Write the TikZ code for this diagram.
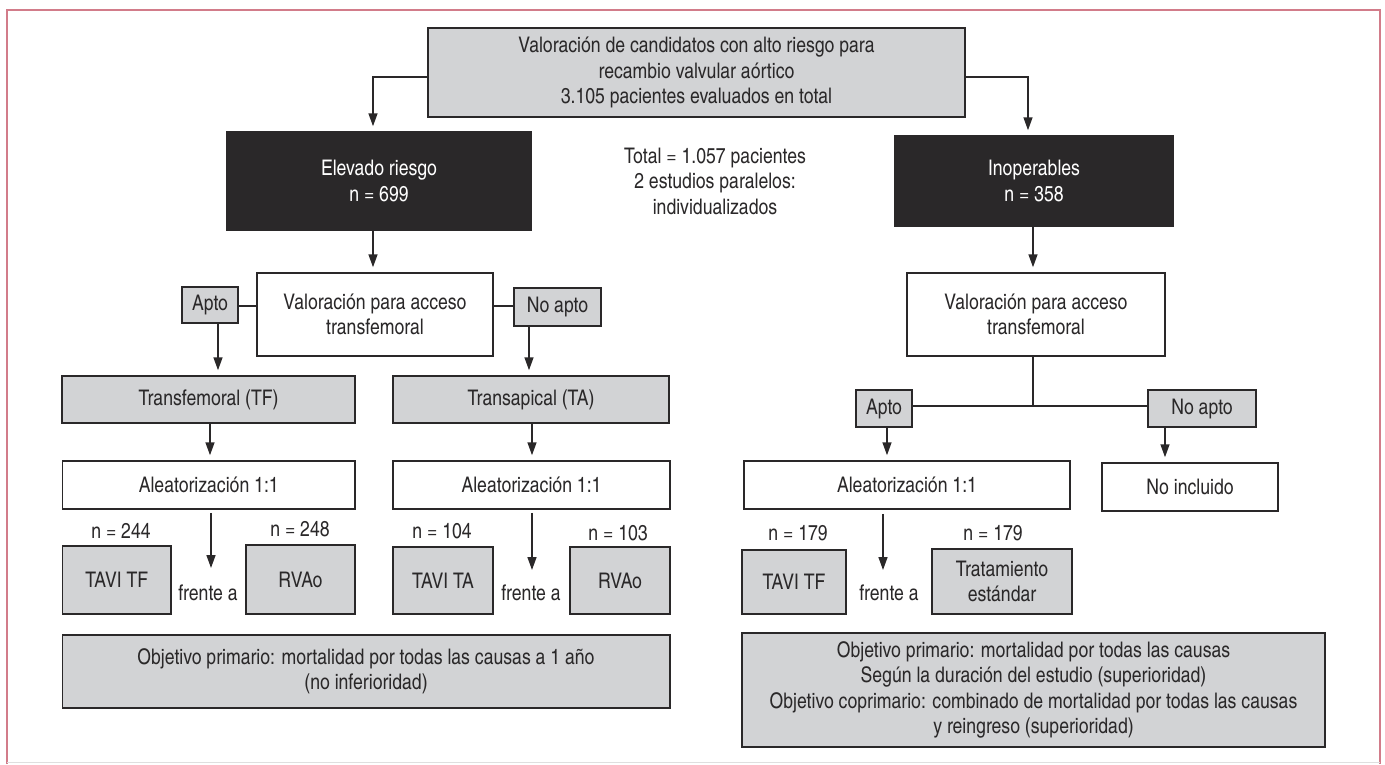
\documentclass[tikz,border=0pt]{standalone}
\usepackage{fontspec}
\setmainfont{texgyreheroscn-regular.otf}
\usetikzlibrary{arrows.meta,calc}
\definecolor{ink}{HTML}{2A2829}
\definecolor{boxgray}{HTML}{D2D3D5}
\definecolor{frame}{HTML}{D27C8A}
\begin{document}
\begin{tikzpicture}[x=1pt,y=-1pt,
  every node/.style={font=\fontsize{21.5}{25.5}\selectfont, text=ink, align=center, inner sep=0pt},
  gbox/.style={draw=ink, line width=1.5pt, fill=boxgray},
  wbox/.style={draw=ink, line width=1.5pt, fill=white},
  bbox/.style={draw=ink, line width=1.5pt, fill=ink, text=white},
  conn/.style={draw=ink, line width=1.5pt},
  arr/.style={conn, -{Triangle[length=13pt,width=9pt]}, shorten >=5pt},
  lbl/.style={}]
\useasboundingbox (0,0) rectangle (1385,764);
% outer frame
\draw[frame, line width=2.5pt] (7,764) -- (7,10) -- (1380,10) -- (1380,764);
\draw[gray!25, line width=1pt] (7,762) -- (1380,762);

% top level
\node[gbox, minimum width=537pt, minimum height=89pt] (top) at (696.5,72.5)
  {Valoración de candidatos con alto riesgo para\\recambio valvular aórtico\\3.105 pacientes evaluados en total};
\node[bbox, minimum width=304pt, minimum height=98pt] (elev) at (379,181) {Elevado riesgo\\n = 699};
\node[bbox, minimum width=278pt, minimum height=90pt] (inop) at (1034,181) {Inoperables\\n = 358};
\node[lbl] (total) at (715,181) {Total = 1.057 pacientes\\2 estudios paralelos:\\individualizados};
\draw[arr] ([yshift=-4.5pt]top.west) -| ([xshift=-6pt]elev.north);
\draw[arr] ([yshift=-4.5pt]top.east) -| ([xshift=-6pt]inop.north);

% high-risk branch
\node[wbox, minimum width=236pt, minimum height=83pt] (val1) at (375,314.5) {Valoración para acceso\\transfemoral};
\node[gbox, minimum width=56pt, minimum height=36pt] (apto1) at (210,305) {Apto};
\node[gbox, minimum width=87pt, minimum height=38pt] (noapto1) at (557.5,307) {No apto};
\draw[arr] ([xshift=-6pt]elev.south) -- ([xshift=-6pt]elev.south |- val1.north);
\draw[conn] (apto1.east |- 0,306) -- (val1.west |- 0,306);
\draw[conn] (val1.east |- 0,306) -- (noapto1.west |- 0,306);

\node[gbox, minimum width=293pt, minimum height=47pt] (tf) at (208.5,399.5) {Transfemoral (TF)};
\node[gbox, minimum width=276pt, minimum height=47pt] (ta) at (531,399.5) {Transapical (TA)};
\draw[arr] ([xshift=8pt]apto1.south) -- ([xshift=8pt]apto1.south |- tf.north);
\draw[arr] ([xshift=-28.5pt]noapto1.south) -- ([xshift=-28.5pt]noapto1.south |- ta.north);

\node[wbox, minimum width=292.5pt, minimum height=48pt] (al1) at (208.75,485) {Aleatorización 1:1};
\node[wbox, minimum width=277pt, minimum height=48pt] (al2) at (531.5,485) {Aleatorización 1:1};
\draw[arr] ([xshift=1.5pt]tf.south) -- ([xshift=1.5pt]tf.south |- al1.north);
\draw[arr] ([xshift=1pt]ta.south) -- ([xshift=1pt]ta.south |- al2.north);

\coordinate (e1) at (211,573);
\coordinate (e2) at (532,575);
\draw[arr, shorten <=3pt] (al1.south -| e1) -- (e1);
\draw[arr, shorten <=3pt] (al2.south -| e2) -- (e2);

\node[lbl] (n244) at (121,531) {n = 244};
\node[lbl] (n248) at (300,529) {n = 248};
\node[lbl] (n104) at (442,531) {n = 104};
\node[lbl] (n103) at (618,533) {n = 103};
\node[gbox, minimum width=108.5pt, minimum height=68pt] (tavitf1) at (116.75,580) {TAVI TF};
\node[gbox, minimum width=109pt, minimum height=69pt] (rvao1) at (300.5,579.5) {RVAo};
\node[gbox, minimum width=100pt, minimum height=67pt] (tavita) at (443,580.5) {TAVI TA};
\node[gbox, minimum width=100pt, minimum height=67pt] (rvao2) at (620,580.5) {RVAo};
\node[lbl] (fr1) at (208,593) {frente a};
\node[lbl] (fr2) at (531,593) {frente a};

\node[gbox, minimum width=607.5pt, minimum height=73pt] (obj1) at (366,671.5)
  {Objetivo primario: mortalidad por todas las causas a 1 año\\(no inferioridad)};

% inoperable branch
\node[wbox, minimum width=258pt, minimum height=83pt] (val2) at (1036,314.5) {Valoración para acceso\\transfemoral};
\draw[arr] ([xshift=-1pt]inop.south) -- ([xshift=-1pt]inop.south |- val2.north);
\node[gbox, minimum width=56pt, minimum height=37pt] (apto2) at (884,408.5) {Apto};
\node[gbox, minimum width=108pt, minimum height=37pt] (noapto2) at (1202,408.5) {No apto};
\coordinate (jn) at (1033,406);
\draw[conn] (val2.south -| jn) -- (jn);
\draw[conn] (apto2.east |- jn) -- (noapto2.west |- jn);

\node[wbox, minimum width=326pt, minimum height=48pt] (al3) at (907,485) {Aleatorización 1:1};
\node[wbox, minimum width=176pt, minimum height=48pt] (noinc) at (1190,487) {No incluido};
\draw[arr] ([xshift=3pt]apto2.south) -- ([xshift=3pt]apto2.south |- al3.north);
\draw[arr] ([xshift=-37pt]noapto2.south) -- ([xshift=-37pt]noapto2.south |- noinc.north);

\coordinate (e3) at (883,575);
\draw[arr, shorten <=4pt] (al3.south -| e3) -- (e3);
\node[lbl] (n179a) at (798,533) {n = 179};
\node[lbl] (n179b) at (993,533) {n = 179};
\node[gbox, minimum width=104pt, minimum height=64pt] (tavitf2) at (794,582) {TAVI TF};
\node[gbox, minimum width=140pt, minimum height=65pt] (trat) at (1002,581.5) {Tratamiento\\estándar};
\node[lbl] (fr3) at (889,593) {frente a};

\node[gbox, minimum width=583pt, minimum height=114pt] (obj2) at (1033.5,690)
  {Objetivo primario: mortalidad por todas las causas\\Según la duración del estudio (superioridad)\\Objetivo coprimario: combinado de mortalidad por todas las causas\\y reingreso (superioridad)};
\end{tikzpicture}
\end{document}
